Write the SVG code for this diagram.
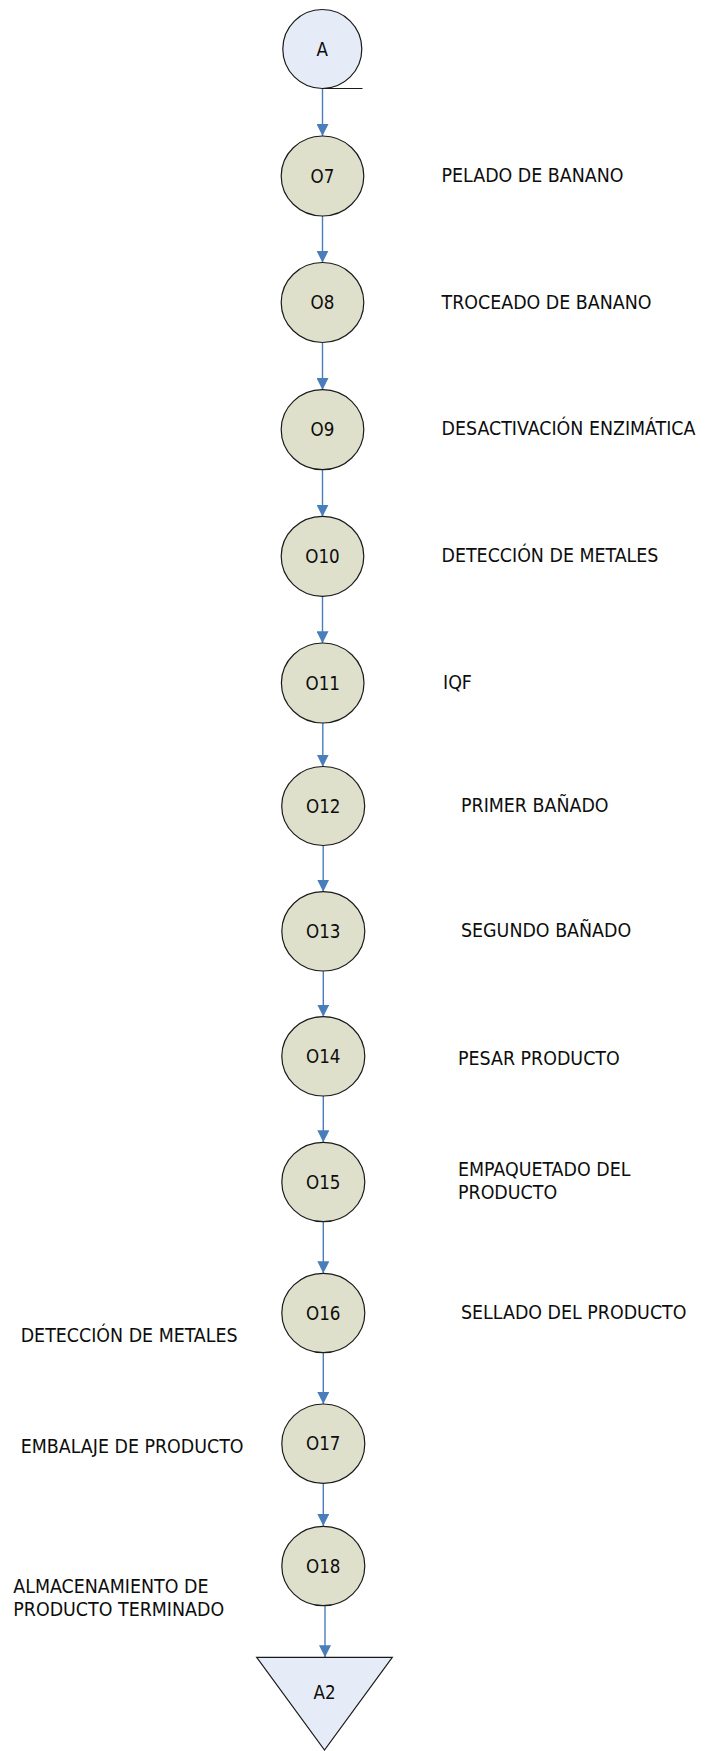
<svg xmlns="http://www.w3.org/2000/svg" width="708" height="1751" viewBox="0 0 708 1751">
<style>
.op{fill:#dee0cb;stroke:#1a1a1a;stroke-width:1.2}
.conn{fill:#e6ecf7;stroke:#1a1a1a;stroke-width:1.2}
.lbl{font-family:"DejaVu Sans Condensed","DejaVu Sans",sans-serif;font-stretch:condensed;font-size:18.6px;fill:#0d0d0d;text-anchor:middle}
.txt{font-family:"DejaVu Sans Condensed","DejaVu Sans",sans-serif;font-stretch:condensed;font-size:19.4px;fill:#0d0d0d}
.arr{stroke:#4a7ebb;stroke-width:1.4;fill:none;marker-end:url(#ah)}
</style>
<defs>
<marker id="ah" viewBox="0 0 12 12" markerWidth="12" markerHeight="12" refX="12" refY="6" orient="auto" markerUnits="userSpaceOnUse">
<path d="M0,0 L12,6 L0,12 z" fill="#4a7ebb"/>
</marker>
</defs>
<rect width="708" height="1751" fill="#fff"/>
<g id="connectors">
<line class="arr" x1="322.5" y1="89" x2="322.5" y2="136"/>
<line class="arr" x1="322.5" y1="216" x2="322.5" y2="262.7"/>
<line class="arr" x1="322.5" y1="342.3" x2="322.5" y2="390"/>
<line class="arr" x1="322.5" y1="469.5" x2="322.5" y2="516.7"/>
<line class="arr" x1="322.5" y1="596" x2="322.5" y2="643.3"/>
<line class="arr" x1="322.8" y1="722.7" x2="322.8" y2="766.7"/>
<line class="arr" x1="323.2" y1="845.3" x2="323.2" y2="891.7"/>
<line class="arr" x1="323.3" y1="971" x2="323.3" y2="1016.7"/>
<line class="arr" x1="323.3" y1="1096" x2="323.3" y2="1142.3"/>
<line class="arr" x1="323.3" y1="1221.7" x2="323.3" y2="1273.3"/>
<line class="arr" x1="323.3" y1="1352.7" x2="323.3" y2="1404"/>
<line class="arr" x1="323.3" y1="1483.3" x2="323.3" y2="1526"/>
<line class="arr" x1="325" y1="1606" x2="325" y2="1657.3"/>
</g>
<g id="A">
<ellipse class="conn" cx="322.3" cy="49" rx="39.5" ry="39.5"/>
<line x1="322.3" y1="88.5" x2="362.5" y2="88.5" stroke="#1a1a1a" stroke-width="1.2"/>
<text class="lbl" x="322.3" y="55.5">A</text>
</g>
<g id="O7"><ellipse class="op" cx="322.5" cy="176" rx="41.3" ry="40"/><text class="lbl" x="322.5" y="182.5">O7</text></g>
<g id="O8"><ellipse class="op" cx="322.5" cy="302.5" rx="41.3" ry="40"/><text class="lbl" x="322.5" y="309">O8</text></g>
<g id="O9"><ellipse class="op" cx="322.5" cy="429.7" rx="41.3" ry="40"/><text class="lbl" x="322.5" y="436.2">O9</text></g>
<g id="O10"><ellipse class="op" cx="322.5" cy="556.3" rx="41.3" ry="40"/><text class="lbl" x="322.5" y="562.8">O10</text></g>
<g id="O11"><ellipse class="op" cx="322.7" cy="683" rx="41.3" ry="40"/><text class="lbl" x="322.7" y="689.5">O11</text></g>
<g id="O12"><ellipse class="op" cx="323.2" cy="806" rx="41.5" ry="39.5"/><text class="lbl" x="323.2" y="812.5">O12</text></g>
<g id="O13"><ellipse class="op" cx="323.3" cy="931.3" rx="41.5" ry="39.7"/><text class="lbl" x="323.3" y="937.8">O13</text></g>
<g id="O14"><ellipse class="op" cx="323.3" cy="1056.3" rx="41.5" ry="39.7"/><text class="lbl" x="323.3" y="1062.8">O14</text></g>
<g id="O15"><ellipse class="op" cx="323.3" cy="1182" rx="41.5" ry="39.7"/><text class="lbl" x="323.3" y="1188.5">O15</text></g>
<g id="O16"><ellipse class="op" cx="323.3" cy="1313" rx="41.5" ry="39.7"/><text class="lbl" x="323.3" y="1319.5">O16</text></g>
<g id="O17"><ellipse class="op" cx="323.3" cy="1443.7" rx="41.5" ry="39.7"/><text class="lbl" x="323.3" y="1450.2">O17</text></g>
<g id="O18"><ellipse class="op" cx="323.3" cy="1566" rx="41.5" ry="39.7"/><text class="lbl" x="323.3" y="1572.5">O18</text></g>
<g id="A2">
<polygon class="conn" points="256.7,1657.3 392.3,1657.3 324.5,1750"/>
<text class="lbl" x="324.5" y="1699.3">A2</text>
</g>
<g id="labels">
<text class="txt" x="441.5" y="182">PELADO DE BANANO</text>
<text class="txt" x="441.5" y="309">TROCEADO DE BANANO</text>
<text class="txt" x="441.5" y="435">DESACTIVACIÓN ENZIMÁTICA</text>
<text class="txt" x="441.5" y="561.7">DETECCIÓN DE METALES</text>
<text class="txt" x="443" y="689.3">IQF</text>
<text class="txt" x="461" y="812">PRIMER BAÑADO</text>
<text class="txt" x="461" y="936.7">SEGUNDO BAÑADO</text>
<text class="txt" x="458" y="1065">PESAR PRODUCTO</text>
<text class="txt" x="458" y="1176">EMPAQUETADO DEL</text>
<text class="txt" x="458" y="1199">PRODUCTO</text>
<text class="txt" x="461" y="1319.3">SELLADO DEL PRODUCTO</text>
<text class="txt" x="20.7" y="1341.7">DETECCIÓN DE METALES</text>
<text class="txt" x="20.7" y="1453.3">EMBALAJE DE PRODUCTO</text>
<text class="txt" x="13.3" y="1592.7">ALMACENAMIENTO DE</text>
<text class="txt" x="13.3" y="1615.7">PRODUCTO TERMINADO</text>
</g>
</svg>
